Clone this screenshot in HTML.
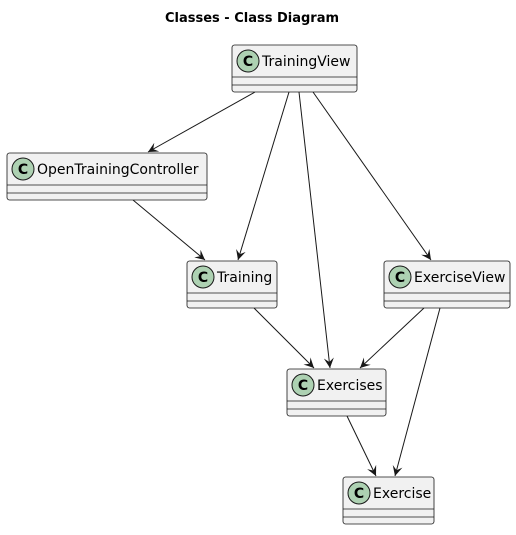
<!DOCTYPE html>
<html><head><style>body{margin:0;background:#fff}</style></head><body>
<svg width="516" height="530" xmlns="http://www.w3.org/2000/svg" font-family="DejaVu Sans, sans-serif">
<defs><marker id="a" markerWidth="12" markerHeight="10" refX="10" refY="5" orient="auto" markerUnits="userSpaceOnUse"><path d="M0,0 L10,5 L0,10 L4,5 Z" fill="#181818"/></marker></defs>
<text x="252" y="22" text-anchor="middle" font-size="13" font-weight="bold">Classes - Class Diagram</text>
<g stroke="#181818" stroke-width="1" marker-end="url(#a)">
<line x1="255" y1="92" x2="148" y2="152"/>
<line x1="289" y1="92" x2="238" y2="260"/>
<line x1="299" y1="92" x2="330" y2="368"/>
<line x1="313" y1="92" x2="431" y2="260"/>
<line x1="133" y1="200" x2="205" y2="260"/>
<line x1="254" y1="308" x2="314" y2="368"/>
<line x1="424" y1="308" x2="360" y2="368"/>
<line x1="440" y1="308" x2="395" y2="476"/>
<line x1="347" y1="416" x2="376" y2="476"/>
</g>
<g font-size="14" fill="#000">
<g transform="translate(232,45)"><rect width="125" height="47" rx="2.5" fill="#F1F1F1" stroke="#181818" stroke-width="0.8"/><line x1="0" y1="32" x2="125" y2="32" stroke="#181818" stroke-width="0.8"/><line x1="0" y1="40" x2="125" y2="40" stroke="#181818" stroke-width="0.8"/><circle cx="16" cy="16" r="11" fill="#ADD1B2" stroke="#181818"/><text x="16" y="21" text-anchor="middle" font-weight="bold" font-size="14">C</text><text x="30" y="21">TrainingView</text></g>
<g transform="translate(7,153)"><rect width="200" height="47" rx="2.5" fill="#F1F1F1" stroke="#181818" stroke-width="0.8"/><line x1="0" y1="32" x2="200" y2="32" stroke="#181818" stroke-width="0.8"/><line x1="0" y1="40" x2="200" y2="40" stroke="#181818" stroke-width="0.8"/><circle cx="16" cy="16" r="11" fill="#ADD1B2" stroke="#181818"/><text x="16" y="21" text-anchor="middle" font-weight="bold">C</text><text x="30" y="21">OpenTrainingController</text></g>
<g transform="translate(187,261)"><rect width="90" height="47" rx="2.5" fill="#F1F1F1" stroke="#181818" stroke-width="0.8"/><line x1="0" y1="32" x2="90" y2="32" stroke="#181818" stroke-width="0.8"/><line x1="0" y1="40" x2="90" y2="40" stroke="#181818" stroke-width="0.8"/><circle cx="16" cy="16" r="11" fill="#ADD1B2" stroke="#181818"/><text x="16" y="21" text-anchor="middle" font-weight="bold">C</text><text x="30" y="21">Training</text></g>
<g transform="translate(384,261)"><rect width="126" height="47" rx="2.5" fill="#F1F1F1" stroke="#181818" stroke-width="0.8"/><line x1="0" y1="32" x2="126" y2="32" stroke="#181818" stroke-width="0.8"/><line x1="0" y1="40" x2="126" y2="40" stroke="#181818" stroke-width="0.8"/><circle cx="16" cy="16" r="11" fill="#ADD1B2" stroke="#181818"/><text x="16" y="21" text-anchor="middle" font-weight="bold">C</text><text x="30" y="21">ExerciseView</text></g>
<g transform="translate(287,369)"><rect width="99" height="47" rx="2.5" fill="#F1F1F1" stroke="#181818" stroke-width="0.8"/><line x1="0" y1="32" x2="99" y2="32" stroke="#181818" stroke-width="0.8"/><line x1="0" y1="40" x2="99" y2="40" stroke="#181818" stroke-width="0.8"/><circle cx="16" cy="16" r="11" fill="#ADD1B2" stroke="#181818"/><text x="16" y="21" text-anchor="middle" font-weight="bold">C</text><text x="30" y="21">Exercises</text></g>
<g transform="translate(343,477)"><rect width="91" height="47" rx="2.5" fill="#F1F1F1" stroke="#181818" stroke-width="0.8"/><line x1="0" y1="32" x2="91" y2="32" stroke="#181818" stroke-width="0.8"/><line x1="0" y1="40" x2="91" y2="40" stroke="#181818" stroke-width="0.8"/><circle cx="16" cy="16" r="11" fill="#ADD1B2" stroke="#181818"/><text x="16" y="21" text-anchor="middle" font-weight="bold">C</text><text x="30" y="21">Exercise</text></g>
</g>
</svg>
</body></html>
